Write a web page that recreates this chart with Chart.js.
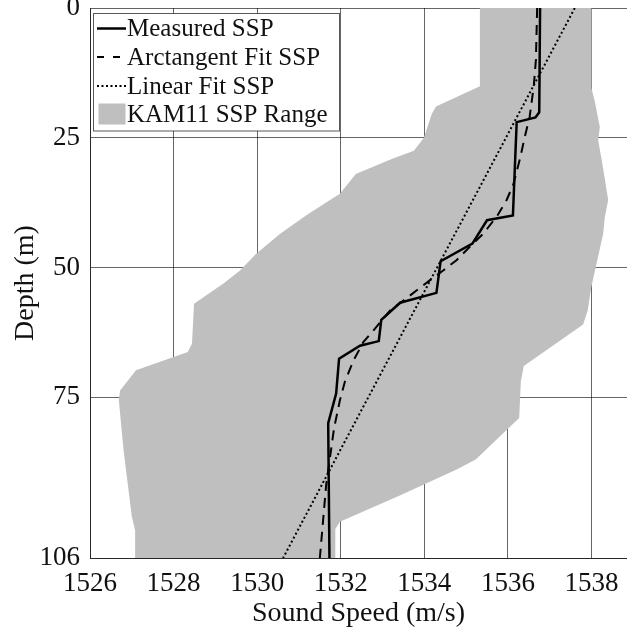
<!DOCTYPE html>
<html>
<head>
<meta charset="utf-8">
<script src="https://cdn.jsdelivr.net/npm/chart.js@4/dist/chart.umd.min.js"></script>
<style>
  html, body { margin: 0; padding: 0; background: #fff; }
  #wrap { width: 627px; height: 634px; }
</style>
</head>
<body>
<div id="wrap"><canvas id="sspChart" width="627" height="634"></canvas></div>
<script>
// Tick labels
const xTicks = [1526, 1528, 1530, 1532, 1534, 1536, 1538];
const yTicks = [0, 25, 50, 75, 106];

// Measured sound speed profile
const measuredDepth = [0, 20.1, 21.1, 22.0, 40.0, 40.9, 45.4, 48.8, 54.9, 56.8, 60.1, 64.2, 65.1, 67.6, 74.3, 80, 106];
const measuredSpeed = [1536.77, 1536.75, 1536.66, 1536.21, 1536.12, 1535.5, 1535.15, 1534.39, 1534.29, 1533.42, 1532.97, 1532.91, 1532.46, 1531.96, 1531.89, 1531.7, 1531.73];

// Arctangent fit
const arctanDepth = [0, 10, 15, 21, 25, 29, 34, 37, 40, 43.5, 46, 48.6, 50.6, 52.5, 54.4, 56.4, 58.3, 61.8, 64.4, 68, 72, 75.6, 81, 92, 106];
const arctanSpeed = [1536.70, 1536.67, 1536.62, 1536.52, 1536.40, 1536.29, 1536.13, 1535.97, 1535.75, 1535.41, 1535.09, 1534.77, 1534.45, 1534.13, 1533.82, 1533.50, 1533.18, 1532.82, 1532.54, 1532.30, 1532.10, 1531.98, 1531.84, 1531.65, 1531.50];

// Linear fit
const linearDepth = [0, 106];
const linearSpeed = [1537.6, 1530.62];

// KAM11 range, left and right edges
const rangeLeftDepth = [0, 15.1, 19, 20.4, 25, 27.5, 29.1, 32, 35.8, 39.7, 43.5, 47.4, 50.6, 53, 57, 64.7, 66.3, 69.8, 73.7, 75.6, 85, 98, 100.7, 106];
const rangeLeftSpeed = [1535.33, 1535.33, 1534.28, 1534.18, 1533.99, 1533.75, 1533.22, 1532.36, 1531.98, 1531.22, 1530.55, 1529.97, 1529.59, 1529.21, 1528.49, 1528.44, 1528.34, 1527.1, 1526.72, 1526.69, 1526.8, 1527.0, 1527.08, 1527.08];
const rangeRightDepth = [0, 15.4, 18, 23, 25.5, 30, 37, 40.3, 43.5, 50, 54, 58.3, 61, 69, 72, 79, 87, 89, 94, 99, 100.4, 106];
const rangeRightSpeed = [1538.0, 1538.0, 1538.08, 1538.2, 1538.16, 1538.26, 1538.4, 1538.32, 1538.28, 1538.1, 1537.99, 1537.91, 1537.8, 1536.38, 1536.31, 1536.27, 1535.23, 1534.76, 1533.4, 1531.98, 1531.87, 1531.87];

const legendLabels = ['Measured SSP', 'Arctangent Fit SSP', 'Linear Fit SSP', 'KAM11 SSP Range'];

const toPoints = (xs, ys) => xs.map((x, i) => ({ x, y: ys[i] }));

// Closed outline: left edge going down, right edge coming back up
const rangeOutline = toPoints(rangeLeftSpeed, rangeLeftDepth)
    .concat(toPoints(rangeRightSpeed, rangeRightDepth).reverse());

const serif = "'Liberation Serif', 'Times New Roman', serif";
const gridColor = 'rgba(0, 0, 0, 0.6)';
const rangeColor = '#bfbfbf';

// Legend box inside the plot, top left
const insideLegend = {
    id: 'insideLegend',
    afterDraw(chart) {
        const ctx = chart.ctx;
        const left = 93.5, top = 13.5, w = 246, h = 117.5;
        const rows = [28.5, 57, 86, 114];
        const x0 = 97, x1 = 126;
        ctx.save();
        ctx.fillStyle = '#fff';
        ctx.fillRect(left, top, w, h);
        ctx.strokeStyle = 'rgba(0, 0, 0, 0.65)';
        ctx.lineWidth = 1;
        ctx.strokeRect(left, top, w, h);

        ctx.strokeStyle = '#000';
        // solid
        ctx.lineWidth = 2.5;
        ctx.setLineDash([]);
        ctx.beginPath(); ctx.moveTo(x0, rows[0]); ctx.lineTo(x1, rows[0]); ctx.stroke();
        // dashed
        ctx.lineWidth = 2;
        ctx.setLineDash([7, 9]);
        ctx.beginPath(); ctx.moveTo(x0, rows[1]); ctx.lineTo(x1, rows[1]); ctx.stroke();
        // dotted
        ctx.setLineDash([2, 2.5]);
        ctx.beginPath(); ctx.moveTo(x0, rows[2]); ctx.lineTo(x1, rows[2]); ctx.stroke();
        ctx.setLineDash([]);
        // patch
        ctx.fillStyle = rangeColor;
        ctx.fillRect(98.5, 103.5, 27, 21);

        ctx.fillStyle = '#111';
        ctx.font = '25px ' + serif;
        ctx.textBaseline = 'middle';
        ctx.textAlign = 'left';
        legendLabels.forEach((label, i) => {
            ctx.fillText(label, 127, rows[i] + 1);
        });
        ctx.restore();
    }
};

const lineSet = (label, xs, ys, width, dash) => ({
    label,
    data: toPoints(xs, ys),
    showLine: true,
    borderColor: '#000',
    borderWidth: width,
    borderDash: dash,
    pointRadius: 0,
    fill: false
});

new Chart(document.getElementById('sspChart'), {
    type: 'scatter',
    data: {
        datasets: [
            lineSet('Measured SSP', measuredSpeed, measuredDepth, 2.5, []),
            lineSet('Arctangent Fit SSP', arctanSpeed, arctanDepth, 2, [10, 7]),
            lineSet('Linear Fit SSP', linearSpeed, linearDepth, 2, [2, 2.5]),
            {
                label: 'KAM11 SSP Range',
                data: rangeOutline,
                showLine: true,
                borderWidth: 0,
                borderColor: 'rgba(0,0,0,0)',
                backgroundColor: rangeColor,
                pointRadius: 0,
                fill: 'shape'
            }
        ]
    },
    options: {
        responsive: false,
        animation: false,
        layout: { padding: { top: 8, right: 0, left: 0, bottom: 0 } },
        plugins: {
            legend: { display: false },
            tooltip: { enabled: false }
        },
        scales: {
            x: {
                type: 'linear',
                position: 'bottom',
                min: 1526,
                max: 1538.85,
                z: 1,
                afterBuildTicks: (scale) => { scale.ticks = xTicks.map(v => ({ value: v })); },
                afterFit: (scale) => {
                    scale.height = 76;
                    scale.paddingLeft = 0;
                    scale.paddingRight = 0;
                },
                grid: { color: gridColor, lineWidth: 1, drawTicks: false },
                border: { display: true, color: gridColor, width: 1 },
                ticks: {
                    color: '#111',
                    padding: 10,
                    maxRotation: 0,
                    autoSkip: false,
                    font: { family: serif, size: 27 },
                    callback: (v) => String(v)
                },
                title: {
                    display: true,
                    text: 'Sound Speed (m/s)',
                    color: '#111',
                    font: { family: serif, size: 28 },
                    padding: { top: 0, bottom: 4 }
                }
            },
            y: {
                type: 'linear',
                reverse: true,
                min: 0,
                max: 106,
                z: 1,
                afterBuildTicks: (scale) => { scale.ticks = yTicks.map(v => ({ value: v })); },
                afterFit: (scale) => {
                    scale.width = 90;
                    scale.paddingTop = 0;
                    scale.paddingBottom = 0;
                },
                grid: { color: gridColor, lineWidth: 1, drawTicks: false },
                border: { display: true, color: gridColor, width: 1 },
                ticks: {
                    color: '#111',
                    padding: 10,
                    autoSkip: false,
                    font: { family: serif, size: 27 },
                    callback: (v) => String(v)
                },
                title: {
                    display: true,
                    text: 'Depth (m)',
                    color: '#111',
                    font: { family: serif, size: 28 },
                    padding: { top: 9, bottom: 0 }
                }
            }
        }
    },
    plugins: [insideLegend]
});
</script>
</body>
</html>
